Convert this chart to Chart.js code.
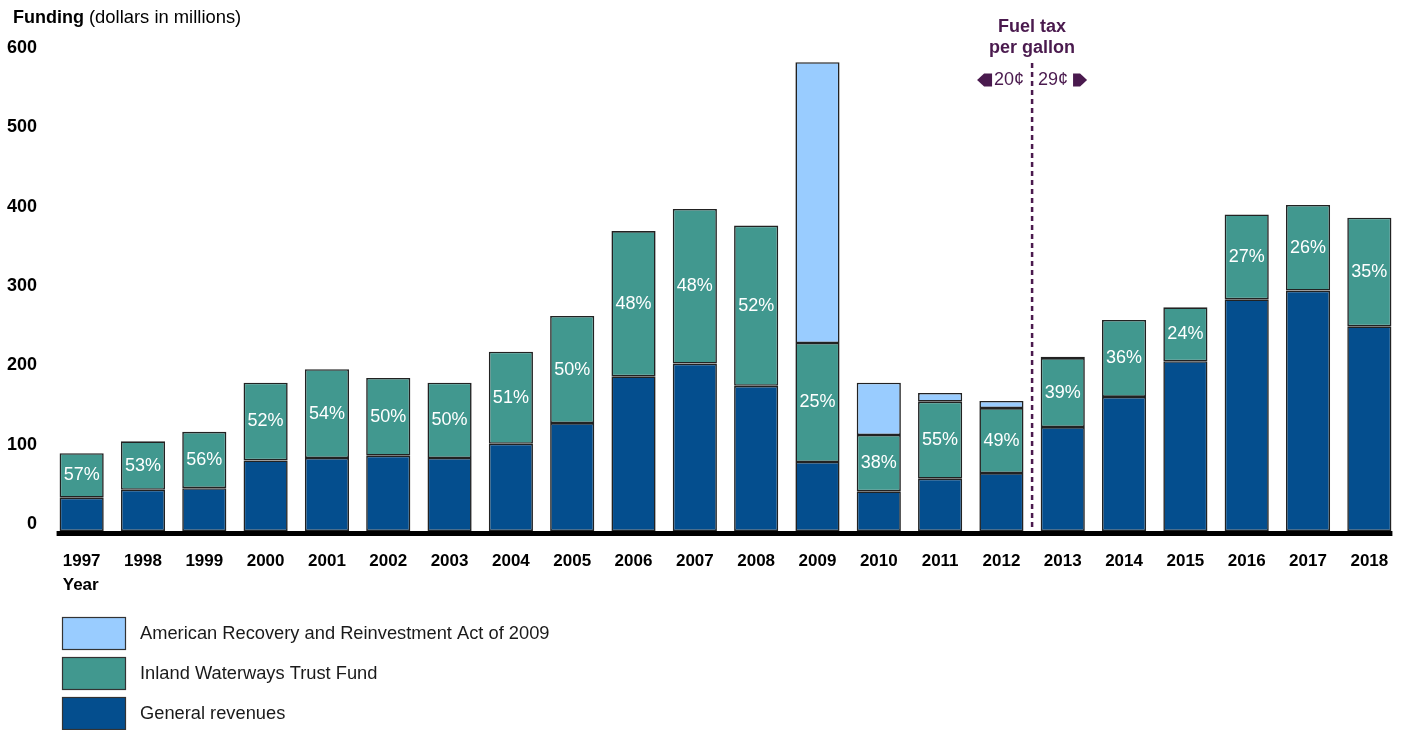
<!DOCTYPE html>
<html>
<head>
<meta charset="utf-8">
<style>
  html, body { margin: 0; padding: 0; background: #ffffff; }
  #wrap { position: relative; width: 1401px; height: 730px; }
  canvas { display: block; }
</style>
<script src="https://cdn.jsdelivr.net/npm/chart.js@4.4.1/dist/chart.umd.min.js"></script>
</head>
<body>
<div id="wrap"><canvas id="c" width="1401" height="730"></canvas></div>
<script>
// ---- data (dollars in millions) ----
const years = ['1997','1998','1999','2000','2001','2002','2003','2004','2005','2006','2007',
               '2008','2009','2010','2011','2012','2013','2014','2015','2016','2017','2018'];
const generalRevenues = [42, 52, 54, 89, 92, 95, 92, 110, 136, 195, 211,
                         183, 87, 50, 66, 73, 131, 169, 214, 292, 303, 258];
const trustFund = [56, 61, 71, 98, 112, 98, 95, 116, 135, 183, 195,
                   202, 150, 71, 97, 82, 87, 97, 68, 107, 108, 137];
const recoveryAct = [null, null, null, null, null, null, null, null, null, null, null,
                     null, 354, 66, 11, 9, 1.5, null, null, null, null, null];
const trustShareLabels = ['57%','53%','56%','52%','54%','50%','50%','51%','50%','48%','48%',
                          '52%','25%','38%','55%','49%','39%','36%','24%','27%','26%','35%'];
const yTicks = [0, 100, 200, 300, 400, 500, 600];
const seriesNames = ['American Recovery and Reinvestment Act of 2009', 'Inland Waterways Trust Fund', 'General revenues'];
const taxBefore = '20¢';
const taxAfter = '29¢';

const FONT = '"Liberation Sans", Arial, Helvetica, sans-serif';
const C_GR = '#044E8E';
const C_TF = '#41988F';
const C_AR = '#99CCFF';
const C_BORDER = '#222222';
const C_PURPLE = '#4A1A4E';

const overlay = {
  id: 'overlay',
  afterDatasetsDraw(chart) {
    const ctx = chart.ctx;
    const xs = chart.scales.x, ys = chart.scales.y;
    const y0 = ys.getPixelForValue(0);

    // percent labels in trust fund segments
    const meta = chart.getDatasetMeta(1);
    ctx.save();
    ctx.fillStyle = '#ffffff';
    ctx.font = '18px ' + FONT;
    ctx.textAlign = 'center';
    ctx.textBaseline = 'middle';
    meta.data.forEach((el, i) => {
      ctx.fillText(trustShareLabels[i], el.x, (el.y + el.base) / 2);
    });
    ctx.restore();

    // baseline axis
    const first = chart.getDatasetMeta(0).data[0];
    const last = chart.getDatasetMeta(0).data[years.length - 1];
    ctx.save();
    ctx.fillStyle = '#000000';
    const ax0 = first.x - first.width / 2 - 3;
    const ax1 = last.x + last.width / 2 + 1;
    ctx.fillRect(ax0, y0, ax1 - ax0, 5);
    ctx.restore();

    // fuel tax divider
    const mx = (xs.getPixelForValue(15) + xs.getPixelForValue(16)) / 2;
    ctx.save();
    ctx.strokeStyle = C_PURPLE;
    ctx.lineWidth = 2.5;
    ctx.setLineDash([5, 4]);
    ctx.beginPath();
    ctx.moveTo(mx, 63);
    ctx.lineTo(mx, y0);
    ctx.stroke();
    ctx.setLineDash([]);
    ctx.fillStyle = C_PURPLE;
    ctx.textAlign = 'center';
    ctx.textBaseline = 'middle';
    ctx.font = 'bold 18px ' + FONT;
    ctx.fillText('Fuel tax', mx, 27);
    ctx.fillText('per gallon', mx, 48);
    ctx.font = '18px ' + FONT;
    ctx.fillText(taxBefore, mx - 23, 80);
    ctx.fillText(taxAfter, mx + 21, 80);
    // arrows
    ctx.beginPath();
    ctx.moveTo(mx - 55, 80);
    ctx.lineTo(mx - 48, 73.5);
    ctx.lineTo(mx - 40, 73.5);
    ctx.lineTo(mx - 40, 86.5);
    ctx.lineTo(mx - 48, 86.5);
    ctx.closePath();
    ctx.fill();
    ctx.beginPath();
    ctx.moveTo(mx + 41, 73.5);
    ctx.lineTo(mx + 48, 73.5);
    ctx.lineTo(mx + 55, 80);
    ctx.lineTo(mx + 48, 86.5);
    ctx.lineTo(mx + 41, 86.5);
    ctx.closePath();
    ctx.fill();
    ctx.restore();

    // title
    ctx.save();
    ctx.fillStyle = '#000000';
    ctx.textBaseline = 'middle';
    ctx.textAlign = 'left';
    ctx.font = 'bold 18px ' + FONT;
    ctx.fillText('Funding', 13, 18);
    const w = ctx.measureText('Funding ').width;
    ctx.font = '18.4px ' + FONT;
    ctx.fillText('(dollars in millions)', 13 + w, 18);
    // Year label
    ctx.font = 'bold 17px ' + FONT;
    const lw = ctx.measureText(years[0]).width;
    ctx.fillText('Year', xs.getPixelForValue(0) - lw / 2, 585);
    ctx.restore();

    // legend
    const legendColors = [C_AR, C_TF, C_GR];
    const boxTops = [617, 657, 697];
    ctx.save();
    ctx.font = '18.3px ' + FONT;
    ctx.textBaseline = 'middle';
    ctx.textAlign = 'left';
    for (let i = 0; i < 3; i++) {
      ctx.fillStyle = legendColors[i];
      ctx.fillRect(62, boxTops[i], 64, 33);
      ctx.strokeStyle = '#333333';
      ctx.lineWidth = 1.2;
      ctx.strokeRect(62.5, boxTops[i] + 0.5, 63, 32);
      ctx.fillStyle = '#1a1a1a';
      ctx.fillText(seriesNames[i], 140, boxTops[i] + 17);
    }
    ctx.restore();
  }
};

const common = { borderColor: C_BORDER, borderWidth: 1.6, borderSkipped: false,
                 barPercentage: 0.72, categoryPercentage: 1.0 };

new Chart(document.getElementById('c'), {
  type: 'bar',
  data: {
    labels: years,
    datasets: [
      Object.assign({ label: seriesNames[2], data: generalRevenues, backgroundColor: C_GR }, common),
      Object.assign({ label: seriesNames[1], data: trustFund, backgroundColor: C_TF }, common),
      Object.assign({ label: seriesNames[0], data: recoveryAct, backgroundColor: C_AR }, common)
    ]
  },
  options: {
    responsive: false,
    animation: false,
    devicePixelRatio: 1,
    layout: { padding: { top: 55, right: 1, bottom: 0, left: 0 } },
    plugins: { legend: { display: false }, tooltip: { enabled: false }, title: { display: false } },
    scales: {
      x: {
        stacked: true,
        grid: { display: false, drawTicks: false },
        border: { display: false },
        ticks: { color: '#000000', font: { family: FONT, size: 17, weight: 'bold' },
                 padding: 20, maxRotation: 0, autoSkip: false },
        afterFit(scale) { scale.height = 199; scale.paddingLeft = 0; scale.paddingRight = 0; }
      },
      y: {
        stacked: true,
        min: 0, max: 600,
        grid: { display: false, drawTicks: false },
        border: { display: false },
        afterBuildTicks(scale) { scale.ticks = yTicks.map(v => ({ value: v })); },
        ticks: { color: '#000000', font: { family: FONT, size: 18, weight: 'bold' },
                 padding: 14, labelOffset: -7 },
        afterFit(scale) { scale.width = 51; scale.paddingTop = 0; scale.paddingBottom = 0; }
      }
    }
  },
  plugins: [overlay]
});
</script>
</body>
</html>
